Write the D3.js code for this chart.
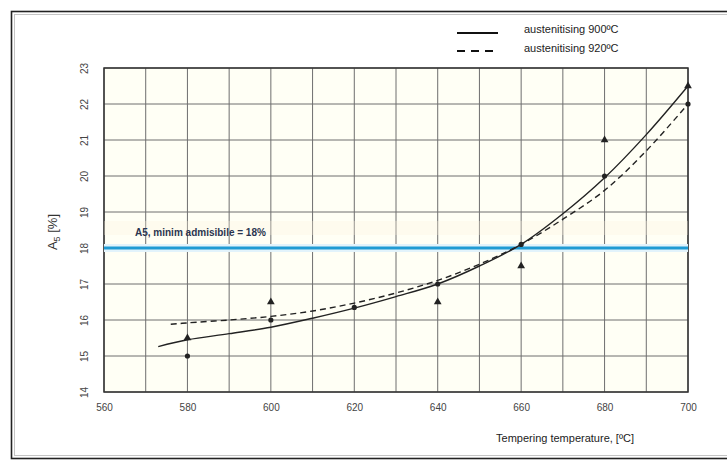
<!DOCTYPE html>
<html>
<head>
<meta charset="utf-8">
<script src="https://cdn.jsdelivr.net/npm/d3@7"></script>
<style>
  html, body { margin: 0; padding: 0; background: #fff; }
  svg { display: block; font-family: "Liberation Sans", Arial, sans-serif; }
</style>
</head>
<body>
<svg id="chart" width="727" height="462"></svg>
<script>
// Tempering temperature [°C] and elongation A5 [%]
const xTicks = [560, 580, 600, 620, 640, 660, 680, 700];
const yTicks = [14, 15, 16, 17, 18, 19, 20, 21, 22, 23];

// Fitted trend, austenitising 900 °C
const curve900T = [573, 580, 590, 600, 610, 620, 630, 640, 650, 660, 670, 680, 690, 700];
const curve900A = [15.26, 15.45, 15.62, 15.8, 16.05, 16.33, 16.65, 17.0, 17.5, 18.1, 18.95, 19.95, 21.15, 22.5];

// Fitted trend, austenitising 920 °C
const curve920T = [576, 580, 590, 600, 610, 620, 630, 640, 650, 660, 670, 680, 690, 700];
const curve920A = [15.88, 15.92, 16.0, 16.1, 16.25, 16.47, 16.75, 17.1, 17.55, 18.1, 18.8, 19.6, 20.7, 22.0];

// Measured values
const triT = [580, 600, 640, 660, 680, 700];
const triA = [15.5, 16.5, 16.5, 17.5, 21.0, 22.5];
const dotT = [580, 600, 620, 640, 660, 680, 700];
const dotA = [15.0, 16.0, 16.35, 17.0, 18.1, 20.0, 22.0];

const minAllowed = 18;
const legendLabels = ["austenitising 900ºC", "austenitising 920ºC"];

const svg = d3.select("#chart");
const plot = { left: 104, right: 688, top: 68, bottom: 392 };

const x = d3.scaleLinear().domain([560, 700]).range([plot.left, plot.right]);
const y = d3.scaleLinear().domain([14, 23]).range([plot.bottom, plot.top]);

// outer frame
svg.append("rect").attr("x", 11.5).attr("y", 11.5).attr("width", 740).attr("height", 447)
  .attr("fill", "none").attr("stroke", "#222").attr("stroke-width", 1.6);
svg.append("rect").attr("x", 14.5).attr("y", 14.5).attr("width", 740).attr("height", 441)
  .attr("fill", "none").attr("stroke", "#c4c4c4").attr("stroke-width", 1);

// plot background
svg.append("rect").attr("x", plot.left).attr("y", plot.top)
  .attr("width", plot.right - plot.left).attr("height", plot.bottom - plot.top)
  .attr("fill", "#fffff5");

// grid
const g = svg.append("g");
g.append("g").selectAll("line").data(d3.range(560, 701, 10)).join("line")
  .attr("x1", d => x(d)).attr("x2", d => x(d))
  .attr("y1", plot.top).attr("y2", plot.bottom)
  .attr("stroke", "#6e6e6e").attr("stroke-width", 1);
g.append("g").selectAll("line").data(yTicks).join("line")
  .attr("x1", plot.left).attr("x2", plot.right)
  .attr("y1", d => y(d)).attr("y2", d => y(d))
  .attr("stroke", "#6e6e6e").attr("stroke-width", 1);

// plot border
svg.append("rect").attr("x", plot.left).attr("y", plot.top)
  .attr("width", plot.right - plot.left).attr("height", plot.bottom - plot.top)
  .attr("fill", "none").attr("stroke", "#333").attr("stroke-width", 1.5);

// axes (labels only, grid drawn above)
const xAxis = svg.append("g").attr("transform", `translate(0,${plot.bottom})`)
  .call(d3.axisBottom(x).tickValues(xTicks).tickSize(0).tickPadding(12).tickFormat(d3.format("d")));
xAxis.select(".domain").remove();
xAxis.selectAll("text").attr("font-size", 10).attr("fill", "#444");

const yAxis = svg.append("g").attr("transform", `translate(${plot.left},0)`)
  .call(d3.axisLeft(y).tickValues(yTicks).tickSize(0).tickFormat(d3.format("d")));
yAxis.select(".domain").remove();
yAxis.selectAll("text")
  .attr("font-size", 10).attr("fill", "#444")
  .attr("x", null)
  .attr("text-anchor", "middle")
  .attr("transform", "translate(-20,0) rotate(-90)")
  .attr("dy", "0.35em");

// axis titles
svg.append("text").attr("x", 565).attr("y", 442).attr("text-anchor", "middle")
  .attr("font-size", 11).attr("fill", "#222").text("Tempering temperature, [ºC]");
const yt = svg.append("text").attr("transform", "translate(57,232) rotate(-90)")
  .attr("text-anchor", "middle").attr("font-size", 13).attr("fill", "#333");
yt.append("tspan").text("A");
yt.append("tspan").attr("font-size", 9).attr("dy", 3).text("5");
yt.append("tspan").attr("dy", -3).text(" [%]");

// minimum admissible line
svg.append("rect").attr("x", plot.left).attr("y", y(minAllowed) - 27)
  .attr("width", plot.right - plot.left).attr("height", 14)
  .attr("fill", "#fdf1df").attr("opacity", 0.3);
svg.append("line").attr("x1", plot.left).attr("x2", plot.right)
  .attr("y1", y(minAllowed)).attr("y2", y(minAllowed))
  .attr("stroke", "#e2f3fb").attr("stroke-width", 8);
svg.append("line").attr("x1", plot.left).attr("x2", plot.right)
  .attr("y1", y(minAllowed)).attr("y2", y(minAllowed))
  .attr("stroke", "#1f9bd3").attr("stroke-width", 3);
svg.append("text").attr("x", 135).attr("y", y(minAllowed) - 12)
  .attr("font-size", 10).attr("font-weight", "bold").attr("fill", "#2a3550")
  .text("A5, minim admisibile = " + minAllowed + "%");

// trend curves
const line = d3.line().x(d => x(d[0])).y(d => y(d[1])).curve(d3.curveCatmullRom);
svg.append("path").datum(d3.zip(curve900T, curve900A)).attr("d", line)
  .attr("fill", "none").attr("stroke", "#222").attr("stroke-width", 1.4);
svg.append("path").datum(d3.zip(curve920T, curve920A)).attr("d", line)
  .attr("fill", "none").attr("stroke", "#222").attr("stroke-width", 1.4)
  .attr("stroke-dasharray", "6,4");

// measured points
svg.append("g").selectAll("path").data(d3.zip(triT, triA)).join("path")
  .attr("d", d3.symbol(d3.symbolTriangle, 26))
  .attr("transform", d => `translate(${x(d[0])},${y(d[1])})`)
  .attr("fill", "#222");
svg.append("g").selectAll("circle").data(d3.zip(dotT, dotA)).join("circle")
  .attr("cx", d => x(d[0])).attr("cy", d => y(d[1])).attr("r", 2.6)
  .attr("fill", "#222");

// legend
const leg = svg.append("g");
leg.append("line").attr("x1", 457).attr("x2", 498).attr("y1", 33).attr("y2", 33)
  .attr("stroke", "#111").attr("stroke-width", 2);
leg.append("line").attr("x1", 457).attr("x2", 498).attr("y1", 51).attr("y2", 51)
  .attr("stroke", "#111").attr("stroke-width", 2).attr("stroke-dasharray", "8,6");
leg.selectAll("text").data(legendLabels).join("text")
  .attr("x", 524).attr("y", (d, i) => 33 + i * 19)
  .attr("font-size", 11).attr("fill", "#222").text(d => d);
</script>
</body>
</html>
